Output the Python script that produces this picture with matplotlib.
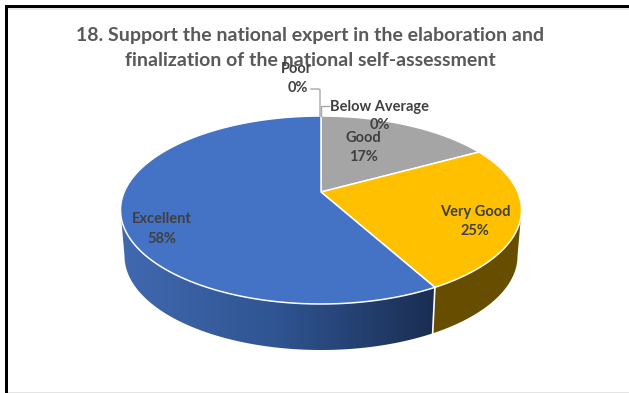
import numpy as np
import matplotlib
matplotlib.use('Agg')
import matplotlib.pyplot as plt
from matplotlib.patches import Polygon, Rectangle
from matplotlib.colors import LinearSegmentedColormap

categories = ['Poor', 'Below Average', 'Good', 'Very Good', 'Excellent']
shares = [0, 0, 17, 25, 58]
top_colors = ['#5B9BD5', '#ED7D31', '#A5A5A5', '#FFC000', '#4472C4']

W, H = 629, 393
cx, cy = 321, 192
A, B, k = 196.8, 90.55, 0.1915
depth = 46
shrink = 0.98

plt.rcParams['font.family'] = ['Lato', 'DejaVu Sans']
fig = plt.figure(figsize=(W / 100, H / 100), dpi=100)
ax = fig.add_axes([0, 0, 1, 1])
ax.set_xlim(0, W)
ax.set_ylim(H, 0)
ax.axis('off')


# tilted circle with perspective, angle is clockwise from 12 o'clock
def rim(theta):
    w = 1 + k * np.cos(theta)
    return cx + A * np.sin(theta) / w, cy - B * np.cos(theta) / w


def wall(theta):
    x, y = rim(theta)
    return cx + (x - cx) * shrink, y + depth


# frame of the pasted chart
ax.add_patch(Rectangle((5, 5), 630, 3, color='black', lw=0))
ax.add_patch(Rectangle((5, 5), 2.5, 390, color='black', lw=0))
ax.add_patch(Rectangle((8, 8), 630, 1.5, color='#e8e8e8', lw=0))
ax.add_patch(Rectangle((8, 391.5), 630, 1.5, color='#e4e4e4', lw=0))

edges = np.cumsum([0] + shares) / 100 * 2 * np.pi
# the wall silhouette ends where the rim is widest
side = np.arccos(-k)

# outer wall, only the front part shows
front_yellow = np.linspace(side, edges[4], 80)
xt, yt = rim(front_yellow)
xb, yb = wall(front_yellow)
ax.add_patch(Polygon(np.r_[np.c_[xt, yt], np.c_[xb, yb][::-1]], fc='#664D00', ec='none', zorder=2))

front_blue = np.linspace(edges[4], 2 * np.pi - side, 160)
xt, yt = rim(front_blue)
xb, yb = wall(front_blue)
wall_blue = Polygon(np.r_[np.c_[xt, yt], np.c_[xb, yb][::-1]], fc='none', ec='none', zorder=2)
ax.add_patch(wall_blue)
cmap = LinearSegmentedColormap.from_list('wall', ['#4169B0', '#2F5491', '#1A2D52'])
grad = ax.imshow(np.linspace(0, 1, 256)[None, :], extent=(121, 436, 352, 200), cmap=cmap,
                 aspect='auto', zorder=2)
grad.set_clip_path(wall_blue)
ax.set_xlim(0, W)
ax.set_ylim(H, 0)

# white seam between the two wall parts
x0, y0 = rim(edges[4])
x1, y1 = wall(edges[4])
ax.plot([x0, x1], [y0, y1], color='white', lw=1.2, zorder=3)

# top face
for i in range(2, len(shares)):
    th = np.linspace(edges[i], edges[i + 1], 120)
    x, y = rim(th)
    pts = np.r_[[[cx, cy]], np.c_[x, y]]
    ax.add_patch(Polygon(pts, fc=top_colors[i], ec='white', lw=1.1, zorder=4, joinstyle='round'))

# title and labels
title_style = dict(ha='center', va='center', color='#595959', fontsize=14.0, fontweight='bold', zorder=5)
ax.text(310, 35.5, '18. Support the national expert in the elaboration and', **title_style)
ax.text(310, 61, 'finalization of the national self-assessment', **title_style)

label_xy = [(297, 69), (380, 107), (363, 138), (475, 212), (162, 219)]
pct_xy = [(298, 88), (380, 125), (363, 157), (475, 231), (162, 239)]
for name, val, p, q in zip(categories, shares, label_xy, pct_xy):
    ax.text(p[0], p[1], name, ha='center', va='center', color='#404040', fontsize=10.5,
            fontweight='bold', zorder=6)
    ax.text(q[0], q[1], f'{val}%', ha='center', va='center', color='#404040', fontsize=10.5,
            fontweight='bold', zorder=6)

# leader lines for the two empty slices
ax.plot([311, 319, 320, 320], [89, 89, 90, 116], color='#a6a6a6', lw=1, zorder=5)
ax.plot([321, 321, 329], [116, 106, 106], color='#a6a6a6', lw=1, zorder=5)

fig.savefig('out.png', dpi=100)
